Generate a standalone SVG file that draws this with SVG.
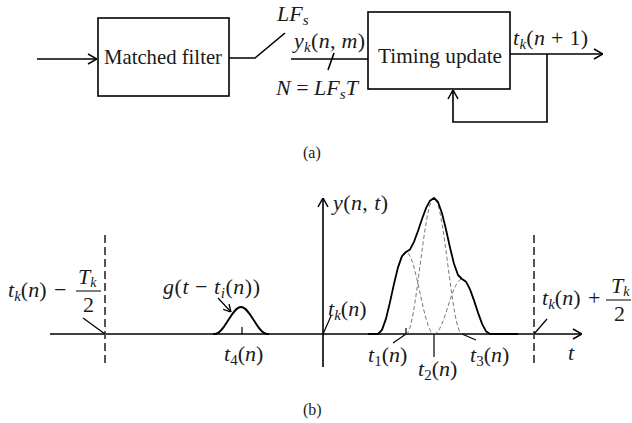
<svg xmlns="http://www.w3.org/2000/svg" width="632" height="423" viewBox="0 0 632 423" font-family="Liberation Serif, serif" font-size="22">
<style>
.box{fill:none;stroke:#000;stroke-width:1.6}
.ln{fill:none;stroke:#000;stroke-width:1.6}
.thin{fill:none;stroke:#000;stroke-width:1.2}
.dash{fill:none;stroke:#555;stroke-width:2;stroke-dasharray:8,4}
.comp{fill:none;stroke:#666;stroke-width:0.9;stroke-dasharray:4,2.5}
.curve{fill:none;stroke:#000;stroke-width:1.8;stroke-linejoin:round}
.bar{stroke:#000;stroke-width:1}
</style>
<defs>
<marker id="arr" viewBox="0 0 10 12" refX="10" refY="6" markerWidth="10" markerHeight="12" markerUnits="userSpaceOnUse" orient="auto">
<path d="M1,1 L10,6 L1,11" fill="none" stroke="#000" stroke-width="1.5"/>
</marker>
<marker id="arrs" viewBox="0 0 10 12" refX="10" refY="6" markerWidth="8" markerHeight="10" markerUnits="userSpaceOnUse" orient="auto">
<path d="M1,1 L10,6 L1,11" fill="none" stroke="#000" stroke-width="1.6"/>
</marker>
</defs>
<rect x="0" y="0" width="632" height="423" fill="#fff"/>

<g id="matched-filter">
<rect class="box" x="98" y="18" width="131" height="78"/>
<text x="104" y="64" font-family="Liberation Serif" font-size="21" fill="#1a1a1a" textLength="118" lengthAdjust="spacingAndGlyphs">Matched filter</text>
</g>
<g id="timing-update">
<rect class="box" x="368" y="12" width="142" height="77"/>
<text x="378" y="63" font-family="Liberation Serif" font-size="21" fill="#1a1a1a" textLength="124" lengthAdjust="spacingAndGlyphs">Timing update</text>
</g>
<g id="switch">
<path class="ln" d="M229,58 L255,58 L285,33"/>
<text x="277" y="21" font-family="Liberation Serif" font-size="22" fill="#1a1a1a"><tspan font-style="italic">LF</tspan><tspan font-size="15" font-style="italic" dy="4">s</tspan></text>
</g>
<g id="connectors">
<line class="ln" x1="37" y1="59" x2="97" y2="59" marker-end="url(#arr)"/>
<line class="ln" x1="291" y1="59" x2="368" y2="59"/>
<line class="ln" x1="328" y1="70" x2="334" y2="53"/>
<line class="ln" x1="510" y1="54" x2="603" y2="54" marker-end="url(#arr)"/>
<path class="ln" d="M547,54 L547,122 L453,122 L453,90" marker-end="url(#arr)"/>
</g>
<g id="labels-a" font-family="Liberation Serif" font-size="22" fill="#1a1a1a">
<text x="294" y="48" font-family="Liberation Serif" textLength="71" lengthAdjust="spacing"><tspan font-style="italic">y</tspan><tspan font-size="15" font-style="italic" dy="4">k</tspan><tspan dy="-4">(</tspan><tspan font-style="italic">n</tspan>, <tspan font-style="italic">m</tspan>)</text>
<text x="276" y="95" font-family="Liberation Serif"><tspan font-style="italic">N</tspan> = <tspan font-style="italic">LF</tspan><tspan font-size="15" font-style="italic" dy="4">s</tspan><tspan font-style="italic" dy="-4">T</tspan></text>
<text x="513" y="45" font-family="Liberation Serif" textLength="75" lengthAdjust="spacing"><tspan font-style="italic">t</tspan><tspan font-size="15" font-style="italic" dy="4">k</tspan><tspan dy="-4">(</tspan><tspan font-style="italic">n</tspan> + 1)</text>
<text x="303" y="158" font-family="Liberation Serif" font-size="16">(a)</text>
</g>

<g id="axes">
<line class="ln" x1="50" y1="334" x2="582" y2="334" marker-end="url(#arr)"/>
<line class="ln" x1="323" y1="367" x2="323" y2="198" marker-end="url(#arr)"/>
<line class="thin" x1="323" y1="334" x2="331" y2="316"/>
<g font-family="Liberation Serif" font-size="22" fill="#1a1a1a">
<text x="568" y="360" font-family="Liberation Serif" font-style="italic">t</text>
<text x="333" y="210" font-family="Liberation Serif" textLength="55" lengthAdjust="spacing"><tspan font-style="italic">y</tspan>(<tspan font-style="italic">n</tspan>, <tspan font-style="italic">t</tspan>)</text>
<text x="328" y="316" font-family="Liberation Serif"><tspan font-style="italic">t</tspan><tspan font-size="15" font-style="italic" dy="4">k</tspan><tspan dy="-4">(</tspan><tspan font-style="italic">n</tspan>)</text>
</g>
</g>
<g id="left-bound">
<line class="dash" x1="105" y1="235" x2="105" y2="364"/>
<line class="thin" x1="83" y1="318" x2="105" y2="334"/>
<line class="bar" x1="76" y1="291" x2="101" y2="291"/>
<g font-family="Liberation Serif" font-size="22" fill="#1a1a1a">
<text x="8" y="297" font-family="Liberation Serif"><tspan font-style="italic">t</tspan><tspan font-size="15" font-style="italic" dy="4">k</tspan><tspan dy="-4">(</tspan><tspan font-style="italic">n</tspan>) <tspan dx="2">−</tspan></text>
<text x="78" y="284" font-family="Liberation Serif"><tspan font-style="italic">T</tspan><tspan font-size="14" font-style="italic" dy="3">k</tspan></text>
<text x="83" y="312" font-family="Liberation Serif">2</text>
</g>
</g>
<g id="right-bound">
<line class="dash" x1="534" y1="235" x2="534" y2="364"/>
<line class="thin" x1="534" y1="334" x2="547" y2="319"/>
<line class="bar" x1="606" y1="300" x2="631" y2="300"/>
<g font-family="Liberation Serif" font-size="22" fill="#1a1a1a">
<text x="542" y="305" font-family="Liberation Serif"><tspan font-style="italic">t</tspan><tspan font-size="15" font-style="italic" dy="4">k</tspan><tspan dy="-4">(</tspan><tspan font-style="italic">n</tspan>) <tspan dx="2">+</tspan></text>
<text x="611" y="293" font-family="Liberation Serif"><tspan font-style="italic">T</tspan><tspan font-size="14" font-style="italic" dy="3">k</tspan></text>
<text x="614" y="321" font-family="Liberation Serif">2</text>
</g>
</g>
<g id="pulse-4">
<path class="curve" d="M213,334 L215,334 C224.5,334 231.5,307 241,307 C250.5,307 257.5,334 267,334 L269,334"/>
<line class="thin" x1="242" y1="327" x2="242" y2="334"/>
<line class="thin" x1="218" y1="298" x2="231" y2="312" marker-end="url(#arrs)"/>
<g font-family="Liberation Serif" font-size="22" fill="#1a1a1a">
<text x="163" y="294" font-family="Liberation Serif" textLength="97" lengthAdjust="spacing"><tspan font-style="italic">g</tspan>(<tspan font-style="italic">t</tspan> − <tspan font-style="italic">t</tspan><tspan font-size="15" font-style="italic" dy="4">i</tspan><tspan dy="-4">(</tspan><tspan font-style="italic">n</tspan>))</text>
<text x="224" y="361" font-family="Liberation Serif"><tspan font-style="italic">t</tspan><tspan font-size="15" dy="4">4</tspan><tspan dy="-4">(</tspan><tspan font-style="italic">n</tspan>)</text>
</g>
</g>
<g id="pulse-sum">
<path class="comp" d="M378,334 C388.2,334 395.8,252 406,252 C416.2,252 423.8,334 434,334"/>
<path class="comp" d="M406,334 C416.2,334 423.8,198 434,198 C444.2,198 451.8,334 462,334"/>
<path class="comp" d="M434,334 C444.2,334 451.8,279 462,279 C472.2,279 479.8,334 490,334"/>
<path class="curve" d="M368,334 L378,334 L382,329.9 L386,318.6 L390,302.1 L394,283.9 L398,267.4 L402,256.1 L406,252 L410,249.4 L414,241.8 L418,231 L422,219 L426,208.2 L430,200.7 L434,198 L438,202 L442,213.2 L446,229.5 L450,247.5 L454,263.8 L458,275 L462,279 L466,281.7 L470,289.4 L474,300.4 L478,312.6 L482,323.6 L486,331.3 L490,334 L518,334"/>
<line class="thin" x1="406" y1="328" x2="406" y2="334"/>
<line class="thin" x1="434" y1="334" x2="434" y2="357"/>
<line class="thin" x1="393" y1="343" x2="406" y2="334"/>
<line class="thin" x1="462" y1="334" x2="476" y2="340"/>
<g font-family="Liberation Serif" font-size="22" fill="#1a1a1a">
<text x="368" y="362" font-family="Liberation Serif"><tspan font-style="italic">t</tspan><tspan font-size="15" dy="4">1</tspan><tspan dy="-4">(</tspan><tspan font-style="italic">n</tspan>)</text>
<text x="418" y="376" font-family="Liberation Serif"><tspan font-style="italic">t</tspan><tspan font-size="15" dy="4">2</tspan><tspan dy="-4">(</tspan><tspan font-style="italic">n</tspan>)</text>
<text x="470" y="362" font-family="Liberation Serif"><tspan font-style="italic">t</tspan><tspan font-size="15" dy="4">3</tspan><tspan dy="-4">(</tspan><tspan font-style="italic">n</tspan>)</text>
</g>
</g>
<text x="303" y="415" font-family="Liberation Serif" font-size="16" fill="#1a1a1a">(b)</text>
</svg>
